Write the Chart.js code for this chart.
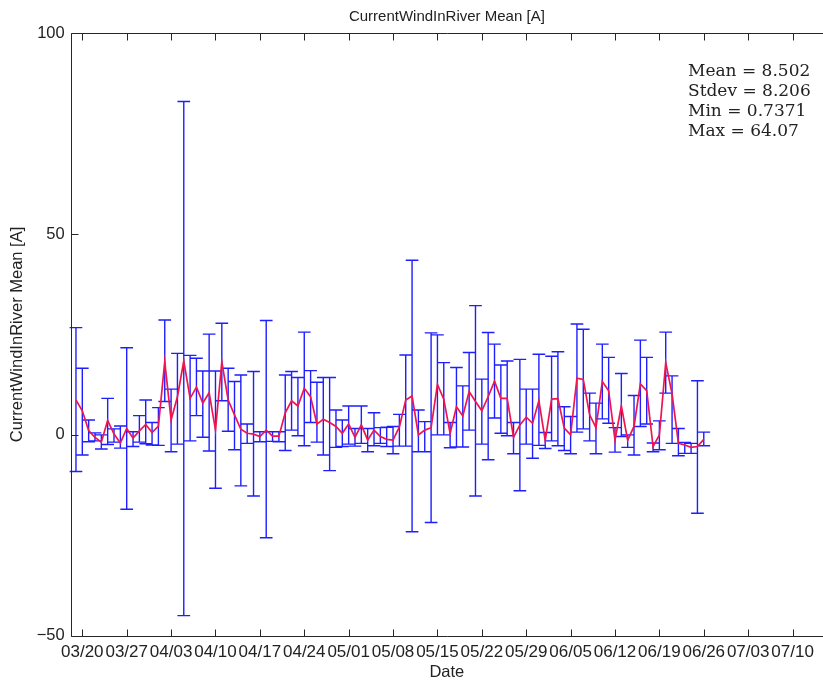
<!DOCTYPE html>
<html>
<head>
<meta charset="utf-8">
<title>CurrentWindInRiver Mean</title>
<script src="https://cdn.jsdelivr.net/npm/chart.js@4.4.1/dist/chart.umd.min.js"></script>
<style>
    html, body { margin: 0; padding: 0; background: #fff; }
    #wrap { width: 823px; height: 681px; }
</style>
</head>
<body>
<div id="wrap"><canvas id="chart"></canvas></div>
<script>
// weekly date ticks, day 0 = 03/20
const tickDays = [0, 7, 14, 21, 28, 35, 42, 49, 56, 63, 70, 77, 84, 91, 98, 105, 112];
const tickLabels = ["03/20", "03/27", "04/03", "04/10", "04/17", "04/24", "05/01", "05/08", "05/15",
    "05/22", "05/29", "06/05", "06/12", "06/19", "06/26", "07/03", "07/10"];
const yTicks = [-50, 0, 50, 100];

// one value per day, first point is 03/19 (day -1)
const firstDay = -1;
const meanValues = [
    8.7, 6.0, 1.1, -0.6, -1.8, 3.6, 0.2, -2.0, 1.6, -0.8,
    1.0, 2.6, 0.6, 2.2, 18.2, 3.7, 9.5, 18.4, 9.1, 11.9,
    7.9, 10.5, 1.2, 18.2, 8.7, 5.0, 1.4, 0.4, 0.2, -0.4,
    1.2, -0.3, -0.3, 5.5, 8.5, 7.2, 11.6, 9.5, 2.7, 3.9,
    3.1, 2.1, 0.4, 2.7, -0.6, 2.5, -1.3, 1.2, -0.4, -1.1,
    -1.3, 2.0, 8.7, 9.7, 0.0, 1.2, 1.8, 12.6, 8.9, 0.4,
    7.0, 4.7, 10.8, 8.3, 6.0, 9.5, 13.4, 9.1, 9.1, -0.6,
    2.5, 4.4, 2.9, 8.5, -1.4, 8.9, 9.0, 1.7, 0.0, 14.1,
    13.8, 5.0, 1.8, 13.3, 11.0, -1.3, 7.2, -1.3, 2.1, 12.7,
    11.0, -2.9, 0.0, 18.0, 10.2, -2.1, -2.5, -3.1, -2.9, -1.1
];
const upperValues = [
    26.7, 16.6, 3.7, 0.5, 0.0, 9.1, 1.5, 2.2, 21.7, 0.8,
    4.8, 8.7, 3.1, 6.8, 28.6, 11.4, 20.3, 83.0, 19.8, 19.1,
    15.9, 25.1, 15.9, 27.8, 16.6, 13.3, 14.9, 2.7, 15.8, 0.8,
    28.5, 0.8, 0.8, 14.9, 15.8, 14.3, 25.6, 16.0, 13.1, 14.3,
    14.3, 6.2, 3.7, 7.2, 1.6, 7.2, 1.6, 5.5, 1.8, 1.9,
    2.1, 5.1, 19.9, 43.5, 6.2, 3.3, 25.4, 24.9, 18.0, 3.1,
    16.8, 12.2, 20.5, 32.2, 13.9, 25.5, 22.6, 17.4, 18.4, 3.1,
    18.8, 11.4, 11.4, 20.1, 0.6, 19.6, 20.7, 7.0, 4.6, 27.6,
    26.3, 10.4, 7.9, 22.6, 19.3, 1.8, 15.3, 0.0, 9.8, 23.6,
    19.3, -2.0, 3.5, 25.6, 14.7, 1.6, -1.9, -2.1, 13.5, 0.7
];
const lowerValues = [
    -9.1, -5.0, -1.7, -1.5, -3.5, -2.4, -1.8, -3.3, -18.5, -2.9,
    -1.8, -2.2, -2.5, -2.6, 8.3, -4.2, -2.3, -45.0, -1.5, 4.8,
    -0.6, -4.0, -13.3, 8.5, 0.9, -3.7, -12.7, -2.1, -15.2, -1.7,
    -25.6, -1.6, -1.7, -3.9, 1.2, -0.2, -2.7, 3.1, -1.8, -5.0,
    -8.9, -3.1, -2.9, -2.3, -2.8, -2.1, -4.2, -2.7, -2.1, -2.9,
    -4.7, -2.8, -2.8, -24.1, -4.2, -4.2, -21.8, 0.0, 0.0, -3.2,
    -3.0, -3.0, 1.2, -15.2, -2.3, -6.2, 4.2, 0.4, -0.2, -4.7,
    -13.9, -2.3, -5.8, -2.6, -3.4, -1.5, -2.7, -3.9, -4.7, 0.7,
    1.5, -1.5, -4.7, 4.0, 2.9, -4.3, -0.4, -3.1, -5.0, 2.1,
    2.7, -4.2, -3.7, 10.4, -2.1, -5.2, -4.6, -4.6, -19.5, -2.7
];
const statsLines = ["Mean = 8.502", "Stdev = 8.206", "Min = 0.7371", "Max = 64.07"];

const dayIndex = meanValues.map((v, i) => firstDay + i);
const textColor = "#222";
const sans = "'Liberation Sans', Arial, sans-serif";

// snap a pixel to the middle of a device pixel so 1px lines stay crisp
const crisp = (p) => Math.round(p) + 0.5;

const errorBars = {
    id: "errorBars",
    beforeDatasetsDraw(chart) {
        const { ctx, scales: { x, y } } = chart;
        ctx.save();
        ctx.strokeStyle = "rgb(30, 30, 255)";
        ctx.lineWidth = 1.4;
        ctx.beginPath();
        dayIndex.forEach((d, i) => {
            const px = x.getPixelForValue(d);
            const top = y.getPixelForValue(upperValues[i]);
            const bot = y.getPixelForValue(lowerValues[i]);
            const cap = x.getPixelForValue(d + 1) - px;
            ctx.moveTo(px, top);
            ctx.lineTo(px, bot);
            ctx.moveTo(px - cap, top);
            ctx.lineTo(px + cap, top);
            ctx.moveTo(px - cap, bot);
            ctx.lineTo(px + cap, bot);
        });
        ctx.stroke();
        ctx.restore();
    },
};

const frame = {
    id: "frame",
    afterDraw(chart) {
        const { ctx, chartArea: a, scales: { x, y } } = chart;
        const left = crisp(a.left);
        const top = crisp(a.top);
        const bottom = crisp(a.bottom);
        ctx.save();
        ctx.strokeStyle = "#262626";
        ctx.lineWidth = 1;
        ctx.beginPath();
        ctx.moveTo(a.right, top);
        ctx.lineTo(left, top);
        ctx.lineTo(left, bottom);
        ctx.lineTo(a.right, bottom);
        x.ticks.forEach((t) => {
            const px = crisp(x.getPixelForValue(t.value));
            ctx.moveTo(px, bottom);
            ctx.lineTo(px, bottom - 7);
            ctx.moveTo(px, top);
            ctx.lineTo(px, top + 7);
        });
        y.ticks.forEach((t) => {
            const py = crisp(y.getPixelForValue(t.value));
            ctx.moveTo(left, py);
            ctx.lineTo(left + 7, py);
        });
        ctx.stroke();

        ctx.fillStyle = textColor;
        ctx.font = "17px 'DejaVu Serif', serif";
        ctx.textBaseline = "alphabetic";
        statsLines.forEach((s, i) => ctx.fillText(s, 688, 76 + 20 * i));
        ctx.restore();
    },
};

new Chart(document.getElementById("chart"), {
    type: "line",
    data: {
        datasets: [
            {
                label: "CurrentWindInRiver Mean [A]",
                data: dayIndex.map((d, i) => ({ x: d, y: meanValues[i] })),
                borderColor: "rgb(240, 20, 80)",
                borderWidth: 1.7,
                pointRadius: 0,
                tension: 0,
                fill: false,
            },
        ],
    },
    options: {
        responsive: true,
        maintainAspectRatio: false,
        animation: false,
        devicePixelRatio: 1,
        layout: { padding: 0 },
        plugins: {
            legend: { display: false },
            tooltip: { enabled: false },
            title: {
                display: true,
                text: "CurrentWindInRiver Mean [A]",
                color: textColor,
                fullSize: false,
                font: { family: sans, size: 15, weight: "normal", lineHeight: 1.2 },
                padding: { top: 7.5, bottom: 7.8 },
            },
        },
        scales: {
            x: {
                type: "linear",
                min: -1.83,
                max: 116.8,
                afterBuildTicks: (s) => { s.ticks = tickDays.map((v) => ({ value: v })); },
                afterFit: (s) => { s.height = 45.3; s.paddingLeft = 0; s.paddingRight = 0; },
                grid: { display: false, drawTicks: false },
                border: { display: false },
                ticks: {
                    autoSkip: false,
                    maxRotation: 0,
                    minRotation: 0,
                    padding: 6,
                    color: textColor,
                    font: { family: sans, size: 17 },
                    callback: (value, index) => tickLabels[index],
                },
                title: {
                    display: true,
                    text: "Date",
                    color: textColor,
                    font: { family: sans, size: 16.5, lineHeight: 1 },
                    padding: { top: 0, bottom: 0 },
                },
            },
            y: {
                type: "linear",
                min: -50,
                max: 100,
                afterBuildTicks: (s) => { s.ticks = yTicks.map((v) => ({ value: v })); },
                afterFit: (s) => { s.width = 70.7; },
                grid: { display: false, drawTicks: false },
                border: { display: false },
                ticks: {
                    padding: 6,
                    color: textColor,
                    font: { family: sans, size: 16.5 },
                    callback: (value) => String(value).replace("-", "\u2212"),
                },
                title: {
                    display: true,
                    text: "CurrentWindInRiver Mean [A]",
                    color: textColor,
                    font: { family: sans, size: 16.5, lineHeight: 1.2 },
                    padding: { top: 8, bottom: 0 },
                },
            },
        },
    },
    plugins: [errorBars, frame],
});
</script>
</body>
</html>
